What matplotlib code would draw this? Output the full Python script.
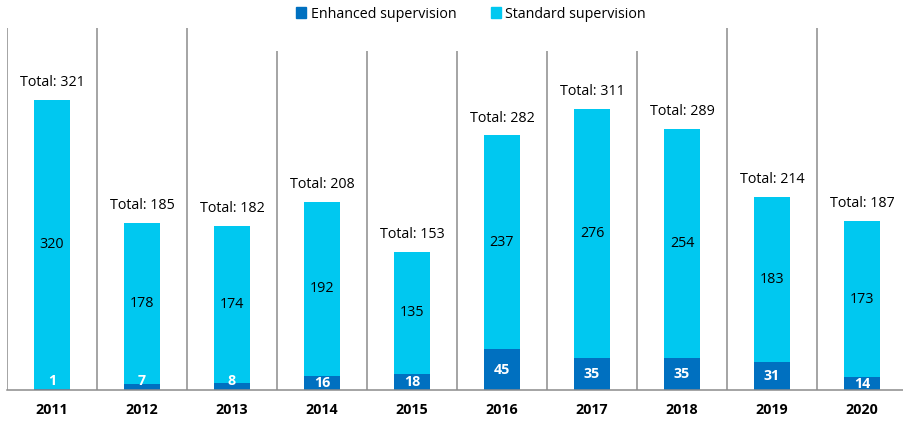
import matplotlib.pyplot as plt
from matplotlib.patches import Rectangle, Patch
import numpy as np

plt.rcParams['font.family'] = ['Open Sans', 'DejaVu Sans']

years = ['2011', '2012', '2013', '2014', '2015', '2016', '2017', '2018', '2019', '2020']
enhanced = [1, 7, 8, 16, 18, 45, 35, 35, 31, 14]
standard = [320, 178, 174, 192, 135, 237, 276, 254, 183, 173]
totals = [321, 185, 182, 208, 153, 282, 311, 289, 214, 187]

dark = '#0070C0'
light = '#00C8F0'
grey = '#8C8C8C'

fig = plt.figure(figsize=(9.04, 4.22), dpi=100)
ax = fig.add_axes([7 / 904, 32 / 422, 900 / 904, 362 / 422])

x = np.arange(len(years))
ax.bar(x, enhanced, width=0.4, color=dark, zorder=2)
ax.bar(x, standard, width=0.4, bottom=enhanced, color=light, zorder=2)

# separators between years
for i in range(len(years) + 1):
    ax.axvline(i - 0.5, color=grey, lw=1.1, zorder=1)

ax.set_xlim(-0.5, len(years) - 0.5)
ax.set_ylim(0, 401)

for i in range(len(years)):
    e, s, t = enhanced[i], standard[i], totals[i]
    # enhanced labels (small ones pushed up a bit)
    ey = e / 2 if e >= 10 else max(e / 2, 10)
    ax.text(i, ey, str(e), ha='center', va='center', color='white',
            fontsize=10.3, fontweight='bold', zorder=3)
    ax.text(i, e + s / 2, str(s), ha='center', va='center', color='black',
            fontsize=10.3, zorder=3)
    ax.annotate(f'Total: {t}', (i, t), xytext=(0, 12.5), textcoords='offset points',
                ha='center', va='center', fontsize=10.3, color='black', zorder=3)

ax.set_xticks(x)
ax.set_xticklabels(years, fontweight='bold', fontsize=10.3)
ax.tick_params(axis='x', length=0, pad=9)
ax.set_yticks([])
for sp in ['top', 'left', 'right']:
    ax.spines[sp].set_visible(False)
ax.spines['bottom'].set_color(grey)
ax.spines['bottom'].set_linewidth(1.1)

# white area behind the legend
fig.patches.append(Rectangle((268 / 904, 371 / 422), 377 / 904, 51 / 422,
                             transform=fig.transFigure, facecolor='white',
                             edgecolor='none', zorder=5))

handles = [Patch(color=dark, label='Enhanced supervision'),
           Patch(color=light, label='Standard supervision')]
fig.legend(handles=handles, loc='center', bbox_to_anchor=(471 / 904, 1 - 14 / 422),
           ncol=2, frameon=False, fontsize=10.3, handlelength=0.7, handleheight=0.7,
           handletextpad=0.3, columnspacing=2.4)

fig.savefig('out.png', dpi=100)
